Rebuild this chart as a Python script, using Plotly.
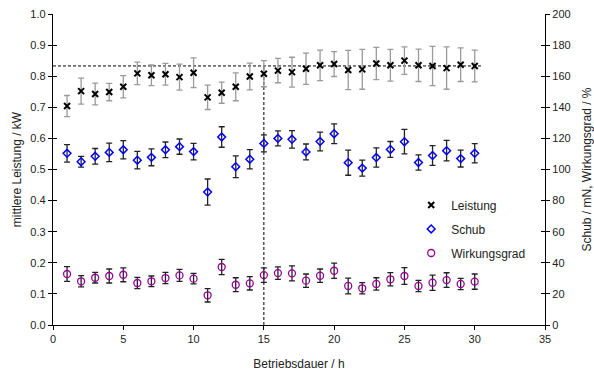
import plotly.graph_objects as go

# Betriebsdauer / h
hours = list(range(1, 31))

# mittlere Leistung / kW and its spread
leistung = [0.704, 0.752, 0.743, 0.749, 0.766, 0.809, 0.803, 0.806, 0.797, 0.811,
            0.732, 0.747, 0.766, 0.799, 0.808, 0.818, 0.813, 0.824, 0.835, 0.839,
            0.820, 0.822, 0.841, 0.835, 0.850, 0.835, 0.833, 0.826, 0.837, 0.833]
leistung_err = [0.034, 0.042, 0.035, 0.028, 0.036, 0.036, 0.033, 0.035, 0.042, 0.048,
                0.039, 0.034, 0.045, 0.043, 0.042, 0.039, 0.048, 0.050, 0.049, 0.040,
                0.063, 0.064, 0.052, 0.051, 0.044, 0.052, 0.063, 0.068, 0.054, 0.051]

# Schub / mN
schub = [110.4, 105.0, 108.5, 111.0, 112.7, 106.0, 107.8, 112.7, 114.7, 111.5,
         85.5, 120.9, 101.8, 106.6, 116.8, 120.0, 119.4, 111.3, 118.0, 123.0,
         104.4, 100.9, 107.7, 112.9, 117.9, 104.5, 109.0, 112.1, 107.0, 110.4]
schub_err = [5.6, 3.5, 5.0, 5.9, 5.9, 5.6, 5.4, 5.0, 4.9, 5.3,
             8.4, 6.6, 7.0, 6.2, 5.5, 4.8, 5.6, 5.1, 6.0, 6.4,
             8.1, 5.1, 6.2, 5.1, 7.9, 4.9, 6.4, 6.6, 5.4, 6.2]

# Wirkungsgrad / %
wirkungsgrad = [32.8, 28.1, 30.4, 31.5, 32.3, 27.0, 28.1, 30.2, 31.9, 29.8,
                19.1, 37.3, 25.9, 26.8, 32.1, 33.4, 33.2, 28.5, 31.7, 34.9,
                25.1, 23.6, 26.4, 29.4, 31.5, 25.1, 27.2, 28.9, 26.4, 27.9]
wirkungsgrad_err = [4.7, 3.6, 3.4, 4.5, 4.5, 3.6, 3.4, 3.6, 3.9, 3.4,
                    4.3, 4.9, 4.5, 4.3, 4.7, 4.0, 4.8, 4.3, 4.3, 4.9,
                    5.1, 3.6, 4.0, 4.3, 5.4, 3.6, 4.9, 4.7, 3.6, 4.9]

# reference lines: mean power level and the 15 h mark
mean_power = 0.833
mark_hour = 15
mean_line_end = 30.5

FONT = "Liberation Sans, Arial, sans-serif"
PURPLE = "#990099"
BLUE = "#0000FF"

fig = go.Figure()

# dashed guide lines
fig.add_trace(go.Scatter(
    x=[0, mean_line_end], y=[mean_power, mean_power], mode="lines",
    line=dict(color="black", width=1, dash="3px,2px"), showlegend=False,
    hoverinfo="skip"))
fig.add_trace(go.Scatter(
    x=[mark_hour, mark_hour], y=[0, mean_power], mode="lines",
    line=dict(color="black", width=1, dash="3px,2px"), showlegend=False,
    hoverinfo="skip"))

fig.add_trace(go.Scatter(
    x=hours, y=leistung, mode="markers", name="Leistung", legendgroup="a",
    marker=dict(symbol="x-thin-open", size=6, color="black",
                line=dict(color="black", width=2)),
    error_y=dict(type="data", array=leistung_err, color="#9a9a9a",
                 thickness=1.3, width=3)))

fig.add_trace(go.Scatter(
    x=hours, y=schub, mode="markers", name="Schub", yaxis="y2", legendgroup="b",
    marker=dict(symbol="diamond-open", size=6, color=BLUE,
                line=dict(color=BLUE, width=1.5)),
    error_y=dict(type="data", array=schub_err, color="#222222",
                 thickness=1.3, width=3)))

fig.add_trace(go.Scatter(
    x=hours, y=wirkungsgrad, mode="markers", name="Wirkungsgrad", yaxis="y2",
    legendgroup="c",
    marker=dict(symbol="circle-open", size=7, color=PURPLE,
                line=dict(color=PURPLE, width=1.3)),
    error_y=dict(type="data", array=wirkungsgrad_err, color="#222222",
                 thickness=1.3, width=3)))

tickfont = dict(family=FONT, size=11, color="#222222")
titlefont = dict(family=FONT, size=12, color="#222222")

fig.update_layout(
    width=594, height=371,
    margin=dict(l=53, r=49, t=14, b=46),
    paper_bgcolor="white", plot_bgcolor="white",
    font=dict(family=FONT, size=12, color="#222222"),
    xaxis=dict(range=[0, 35], tickvals=[0, 5, 10, 15, 20, 25, 30, 35],
               showgrid=False, zeroline=False, showline=True,
               linecolor="black", linewidth=1.3, ticks="outside", ticklen=4,
               tickcolor="black", tickfont=tickfont, automargin=False,
               title=dict(text="Betriebsdauer / h", font=titlefont, standoff=16)),
    yaxis=dict(range=[0, 1], tickvals=[i / 10 for i in range(11)],
               tickformat=".1f", showgrid=False, zeroline=False,
               showline=True, linecolor="black", linewidth=1.3,
               ticks="outside", ticklen=4, tickcolor="black",
               tickfont=tickfont, automargin=False,
               title=dict(text="mittlere Leistung / kW", font=titlefont,
                          standoff=6)),
    yaxis2=dict(range=[0, 200], tickvals=list(range(0, 201, 20)),
                overlaying="y", side="right", showgrid=False,
                zeroline=False, showline=True, linecolor="black",
                linewidth=1.3, ticks="outside", ticklen=4,
                tickcolor="black", tickfont=tickfont, automargin=False,
                title=dict(text="Schub / mN, Wirkungsgrad / %",
                           font=titlefont, standoff=13)),
    # inner halves of the crossing tick marks
    yaxis3=dict(range=[0, 1], tickvals=[i / 10 for i in range(11)],
                overlaying="y", side="left", showgrid=False, zeroline=False,
                showline=False, ticks="inside", ticklen=4, tickcolor="black",
                showticklabels=False, automargin=False),
    yaxis4=dict(range=[0, 200], tickvals=list(range(0, 201, 20)),
                overlaying="y", side="right", showgrid=False, zeroline=False,
                showline=False, ticks="inside", ticklen=4, tickcolor="black",
                showticklabels=False, automargin=False),
    legend=dict(x=0.728, y=0.4325, xanchor="left", yanchor="top",
                bgcolor="rgba(0,0,0,0)", font=dict(family=FONT, size=12),
                traceorder="grouped", tracegroupgap=5),
    showlegend=True,
)

# empty traces so the tick-only axes are rendered
fig.add_trace(go.Scatter(x=[None], y=[None], yaxis="y3", showlegend=False,
                         hoverinfo="skip"))
fig.add_trace(go.Scatter(x=[None], y=[None], yaxis="y4", showlegend=False,
                         hoverinfo="skip"))

fig.write_html("out.html")
